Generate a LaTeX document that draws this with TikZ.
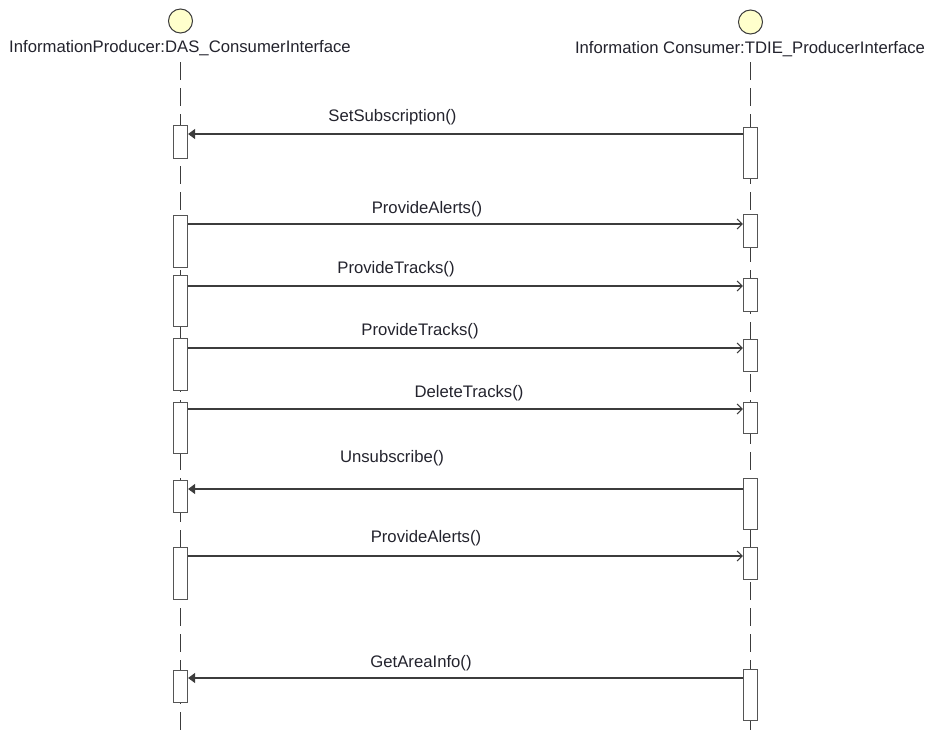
\documentclass[tikz,border=0pt]{standalone}
\usepackage{fontspec}
\setmainfont{Liberation Sans}
\usetikzlibrary{arrows.meta}
\definecolor{lnc}{RGB}{60,60,60}
\definecolor{boxc}{RGB}{85,85,85}
\definecolor{headfill}{RGB}{255,255,204}
\definecolor{txt}{RGB}{35,35,45}
\begin{document}
\begin{tikzpicture}[x=1pt,y=-1pt,
  font=\fontsize{16.7}{20}\selectfont,
  head/.style={circle, draw=lnc, line width=1pt, fill=headfill, minimum size=24pt, inner sep=0pt},
  hlabel/.style={text=txt, inner sep=0pt},
  lifeline/.style={draw=lnc, line width=1.2pt, dash pattern=on 18pt off 8pt},
  actbox/.style={draw=boxc, line width=1.2pt, fill=white, minimum width=14pt, inner sep=0pt, anchor=north},
  msg/.style={draw=lnc, line width=1.1pt},
  callmsg/.style={msg, -{Triangle[length=7pt,width=10pt]}},
  sendmsg/.style={msg, -{Straight Barb[length=5pt,width=10pt]}},
  mlabel/.style={text=txt, inner sep=0pt}]
\useasboundingbox (0,0) rectangle (927,731);

% heads
\node[head] (hL) at (180.5,21) {};
\node[head] (hR) at (750.5,22) {};
\node[hlabel] (tL) at (180,48.5) {InformationProducer:DAS\_ConsumerInterface};
\node[hlabel] (tR) at (750,49.5) {Information Consumer:TDIE\_ProducerInterface};

% lifelines
\coordinate (topL) at (180.5,62);
\coordinate (topR) at (750.5,62);
\coordinate (bot) at (465,731);
\draw[lifeline] (topL) -- (topL |- bot);
\draw[lifeline] (topR) -- (topR |- bot);

% activation boxes
\node[actbox, minimum height=33pt] (L1) at (180.5,125) {};
\node[actbox, minimum height=51pt] (R1) at (750.5,127) {};
\node[actbox, minimum height=52pt] (L2) at (180.5,215) {};
\node[actbox, minimum height=33pt] (R2) at (750.5,214) {};
\node[actbox, minimum height=51pt] (L3) at (180.5,275) {};
\node[actbox, minimum height=33pt] (R3) at (750.5,278) {};
\node[actbox, minimum height=52pt] (L4) at (180.5,338) {};
\node[actbox, minimum height=32pt] (R4) at (750.5,339) {};
\node[actbox, minimum height=51pt] (L5) at (180.5,402) {};
\node[actbox, minimum height=31pt] (R5) at (750.5,402) {};
\node[actbox, minimum height=32pt] (L6) at (180.5,480) {};
\node[actbox, minimum height=51pt] (R6) at (750.5,478) {};
\node[actbox, minimum height=52pt] (L7) at (180.5,547) {};
\node[actbox, minimum height=32pt] (R7) at (750.5,547) {};
\node[actbox, minimum height=32pt] (L8) at (180.5,670) {};
\node[actbox, minimum height=51pt] (R8) at (750.5,669) {};

% message levels
\coordinate (y1) at (465,134);
\coordinate (y2) at (465,224);
\coordinate (y3) at (465,286);
\coordinate (y4) at (465,348);
\coordinate (y5) at (465,409);
\coordinate (y6) at (465,489);
\coordinate (y7) at (465,556);
\coordinate (y8) at (465,678);

% messages
\draw[callmsg] (R1.west |- y1) -- (L1.east |- y1);
\draw[sendmsg] (L2.east |- y2) -- (R2.west |- y2);
\draw[sendmsg] (L3.east |- y3) -- (R3.west |- y3);
\draw[sendmsg] (L4.east |- y4) -- (R4.west |- y4);
\draw[sendmsg] (L5.east |- y5) -- (R5.west |- y5);
\draw[callmsg] (R6.west |- y6) -- (L6.east |- y6);
\draw[sendmsg] (L7.east |- y7) -- (R7.west |- y7);
\draw[callmsg] (R8.west |- y8) -- (L8.east |- y8);

% labels
\node[mlabel] (m1) at (392.5,117.5) {SetSubscription()};
\node[mlabel] (m2) at (427,209.5) {ProvideAlerts()};
\node[mlabel] (m3) at (396,269.5) {ProvideTracks()};
\node[mlabel] (m4) at (420,331.5) {ProvideTracks()};
\node[mlabel] (m5) at (469,393.5) {DeleteTracks()};
\node[mlabel] (m6) at (392,458.5) {Unsubscribe()};
\node[mlabel] (m7) at (426,538.5) {ProvideAlerts()};
\node[mlabel] (m8) at (421,663.5) {GetAreaInfo()};
\end{tikzpicture}
\end{document}
